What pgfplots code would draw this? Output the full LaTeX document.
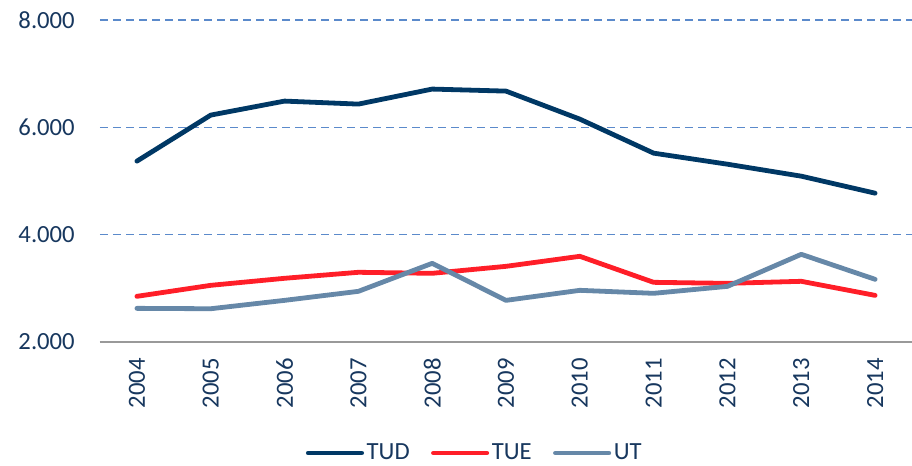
\documentclass[border=0pt]{standalone}
\usepackage{pgfplots}
\pgfplotsset{compat=1.18}
\usepackage{fontspec}
\setmainfont{Carlito}
\definecolor{tud}{HTML}{003865}
\definecolor{tue}{HTML}{FF1E28}
\definecolor{ut}{HTML}{6688A8}
\definecolor{gridc}{HTML}{5B8ACB}
\definecolor{txt}{HTML}{17375E}
\begin{document}
\begin{tikzpicture}[font=\fontsize{18.5}{22}\selectfont]
\path[use as bounding box] (-75pt,-92.25pt) rectangle (609pt,256.5pt);
\begin{axis}[
  at={(0,0)}, anchor=south west,
  scale only axis, width=609pt, height=241.5pt,
  xmin=2003.5, xmax=2014.5, ymin=2000, ymax=8000,
  xtick={2004,2005,2006,2007,2008,2009,2010,2011,2012,2013,2014},
  xticklabels={2004,2005,2006,2007,2008,2009,2010,2011,2012,2013,2014},
  ytick={2000,4000,6000,8000},
  yticklabels={2.000,4.000,6.000,8.000},
  major tick length=0pt,
  axis x line*=bottom, axis y line*=left,
  x axis line style={draw=gray!80, line width=1.2pt},
  y axis line style={draw=none},
  ymajorgrids, grid style={gridc, line width=1.1pt, dash pattern=on 6pt off 3.75pt},
  tick label style={text=txt, font=\fontsize{18.5}{22}\selectfont},
  yticklabel style={anchor=east, inner sep=0pt},
  yticklabel shift=18.75pt,
  xticklabel style={rotate=90, anchor=east, inner sep=0pt},
  xticklabel shift=12pt,
  clip=false,
  legend columns=3,
  legend style={at={(0.462,0)}, anchor=center, yshift=-83.25pt, draw=none, fill=none,
    font=\fontsize{18.5}{22}\selectfont, text=txt,
    /tikz/every even column/.append style={column sep=14pt}},
  legend image code/.code={\draw[#1, line cap=round] (0pt,0pt) -- (40pt,0pt);},
  every axis plot/.append style={line width=3.6pt, line join=round, line cap=round},
]
\addplot[tud] coordinates {(2004,5370) (2005,6228) (2006,6489) (2007,6433) (2008,6713) (2009,6675) (2010,6153) (2011,5519) (2012,5313) (2013,5090) (2014,4773)};
\addplot[tue] coordinates {(2004,2851) (2005,3056) (2006,3187) (2007,3299) (2008,3280) (2009,3410) (2010,3597) (2011,3112) (2012,3093) (2013,3131) (2014,2869)};
\addplot[ut] coordinates {(2004,2627) (2005,2620) (2006,2776) (2007,2944) (2008,3466) (2009,2776) (2010,2963) (2011,2907) (2012,3037) (2013,3634) (2014,3168)};
\legend{TUD,TUE,UT}
\end{axis}
\end{tikzpicture}
\end{document}
